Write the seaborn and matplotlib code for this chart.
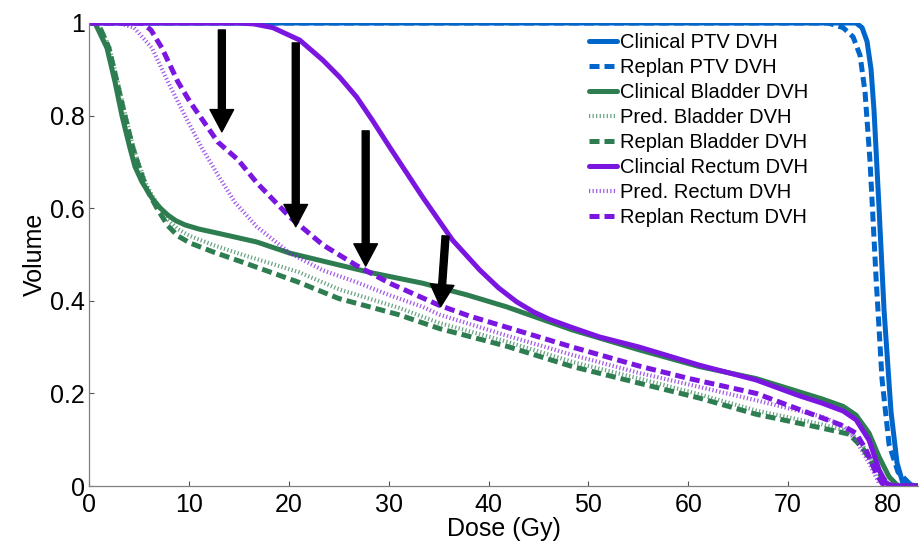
import matplotlib
matplotlib.use("Agg")
import matplotlib.pyplot as plt
import seaborn as sns

sns.set_style("ticks")
plt.rcParams['font.family'] = ['Liberation Sans', 'DejaVu Sans']
plt.rcParams['text.color'] = 'black'
plt.rcParams['axes.labelcolor'] = 'black'
plt.rcParams['xtick.color'] = 'black'
plt.rcParams['ytick.color'] = 'black'

# --- data (Dose in Gy, relative Volume) ---
ptv_clin_x = [0, 76.8, 77.4, 77.9, 78.3, 78.6, 79.1, 79.6, 80.3, 80.9, 81.5, 83]
ptv_clin_y = [1, 1, 0.99, 0.96, 0.9, 0.81, 0.6, 0.38, 0.16, 0.05, 0.005, 0]

ptv_replan_x = [0, 74, 75.5, 76.5, 77.2, 77.7, 78.2, 78.8, 79.4, 80.1, 81, 82.4, 83]
ptv_replan_y = [1, 1, 0.99, 0.97, 0.93, 0.85, 0.7, 0.45, 0.23, 0.09, 0.03, 0, 0]

bladder_clin_x = [0, 0.6, 1.8, 2.6, 3.3, 4.1, 4.6, 5.3, 6.3, 7.1, 7.9, 8.7, 9.6, 11.0, 12.9, 16.8, 20.1,
                  25.1, 28.4, 33.4, 37.8, 41.8, 48.4, 55.1, 61.1, 66.8, 73.4, 75.5, 76.8, 78.1, 79.1,
                  80.1, 81, 83]
bladder_clin_y = [1, 1, 0.946, 0.873, 0.80, 0.73, 0.69, 0.657, 0.622, 0.601, 0.585, 0.573, 0.564, 0.555,
                  0.546, 0.527, 0.503, 0.477, 0.46, 0.438, 0.413, 0.387, 0.337, 0.294, 0.258, 0.232,
                  0.188, 0.172, 0.153, 0.114, 0.063, 0.02, 0, 0]

bladder_x = [0, 0.9, 2.0, 2.8, 3.6, 4.4, 5.0, 5.8, 6.8, 7.9, 8.9, 10.1, 12.5, 15.3, 21, 25, 31, 35.1,
             41.8, 48.4, 55.1, 61.1, 66.8, 73.4, 76.1, 77.4, 78.8, 79.8, 80.3, 83]
bladder_pred_y = [1, 1, 0.95, 0.88, 0.805, 0.735, 0.695, 0.648, 0.61, 0.575, 0.555, 0.54, 0.52, 0.50,
                  0.462, 0.425, 0.385, 0.352, 0.312, 0.268, 0.232, 0.198, 0.163, 0.133, 0.118, 0.09,
                  0.04, 0.01, 0, 0]
bladder_replan_y = [1, 1, 0.946, 0.873, 0.80, 0.73, 0.69, 0.64, 0.60, 0.562, 0.54, 0.525, 0.505, 0.484,
                    0.44, 0.405, 0.37, 0.34, 0.302, 0.258, 0.222, 0.19, 0.155, 0.125, 0.112, 0.084,
                    0.035, 0.009, 0, 0]

rectum_clin_x = [0, 15, 16.5, 18.4, 21.1, 23.4, 25.1, 26.8, 28.4, 30.1, 33.4, 36.4, 39.1, 41.0, 42.8,
                 44.5, 46.1, 48.4, 51.1, 55.1, 61.1, 66.8, 71.1, 73.4, 75.5, 76.8, 78.1, 79.1, 79.8,
                 80.5, 83]
rectum_clin_y = [1, 1, 0.998, 0.99, 0.963, 0.92, 0.883, 0.84, 0.789, 0.732, 0.624, 0.531, 0.467, 0.428,
                 0.398, 0.376, 0.36, 0.342, 0.322, 0.30, 0.261, 0.229, 0.195, 0.179, 0.162, 0.143,
                 0.099, 0.035, 0.006, 0, 0]

rectum_pred_x = [0, 3.0, 4.5, 6.3, 7.9, 9.6, 11.3, 12.9, 14.6, 16.8, 20.1, 23.4, 26.8, 30.1, 33.4,
                 35.1, 41.8, 48.4, 55.1, 61.1, 66.8, 73.4, 75.5, 76.8, 78.1, 79.1, 83]
rectum_pred_y = [1, 1, 0.99, 0.946, 0.873, 0.80, 0.73, 0.672, 0.613, 0.56, 0.503, 0.466, 0.44, 0.412,
                 0.387, 0.37, 0.325, 0.283, 0.244, 0.214, 0.185, 0.15, 0.13, 0.099, 0.05, 0.006, 0]

rectum_replan_x = [0, 5.3, 6.2, 7.3, 8.9, 10.1, 12.9, 14.9, 16.8, 20.1, 23.4, 26.8, 30.1, 35.1, 38.1,
                   41.8, 48.4, 55.1, 60.1, 66.8, 73.4, 75.5, 76.8, 77.8, 78.8, 79.4, 80, 83]
rectum_replan_y = [1, 1, 0.985, 0.946, 0.873, 0.83, 0.743, 0.705, 0.655, 0.581, 0.521, 0.476, 0.438,
                   0.39, 0.367, 0.343, 0.30, 0.259, 0.232, 0.20, 0.147, 0.13, 0.114, 0.078, 0.028,
                   0.006, 0, 0]

# arrows: (x_start, y_start, x_tip, y_tip)
arrows = [(13.3, 0.985, 13.3, 0.765),
          (20.7, 0.957, 20.7, 0.56),
          (27.7, 0.767, 27.7, 0.475),
          (35.7, 0.54, 35.2, 0.387)]

blue = '#0066cc'
green = '#2e7d50'
purple = '#7b16e0'

fig = plt.figure(figsize=(9.2, 5.52), dpi=100)
ax = fig.add_axes([89 / 920, 66 / 552, 829 / 920, 463 / 552])

lw = 3.6
dash = (0, (2.0, 1.0))
dots = (0, (0.3, 0.55))

def draw(x, y, color, style, label, width=lw, alpha=1.0):
    sns.lineplot(x=x, y=y, ax=ax, color=color, linestyle=style, linewidth=width,
                 label=label, sort=False, estimator=None, alpha=alpha)

draw(ptv_clin_x, ptv_clin_y, blue, '-', 'Clinical PTV DVH')
draw(ptv_replan_x, ptv_replan_y, blue, dash, 'Replan PTV DVH')
draw(bladder_clin_x, bladder_clin_y, green, '-', 'Clinical Bladder DVH')
draw(bladder_x, bladder_pred_y, green, dots, 'Pred. Bladder DVH', width=3.0, alpha=0.7)
draw(bladder_x, bladder_replan_y, green, dash, 'Replan Bladder DVH')
draw(rectum_clin_x, rectum_clin_y, purple, '-', 'Clincial Rectum DVH')
draw(rectum_pred_x, rectum_pred_y, purple, dots, 'Pred. Rectum DVH', width=3.0, alpha=0.7)
draw(rectum_replan_x, rectum_replan_y, purple, dash, 'Replan Rectum DVH')

for x0, y0, x1, y1 in arrows:
    ax.annotate('', xy=(x1, y1), xytext=(x0, y0),
                arrowprops=dict(facecolor='black', edgecolor='black', width=5,
                                headwidth=17, headlength=16, shrink=0))

ax.set_xlim(0, 83)
ax.set_ylim(0, 1)
ax.set_xticks([0, 10, 20, 30, 40, 50, 60, 70, 80])
ax.set_yticks([0, 0.2, 0.4, 0.6, 0.8, 1])
ax.set_yticklabels(['0', '0.2', '0.4', '0.6', '0.8', '1'])
ax.tick_params(direction='in', length=3.5, width=0.8, color='#555555',
               labelcolor='black', labelsize=18)
ax.tick_params(axis='x', pad=5)
ax.tick_params(axis='y', pad=3)
ax.set_xlabel('Dose (Gy)', fontsize=18, labelpad=0, color='black')
ax.set_ylabel('Volume', fontsize=18, labelpad=2, color='black')
for side in ['top', 'right']:
    ax.spines[side].set_visible(False)
for side in ['left', 'bottom']:
    ax.spines[side].set_color('#808080')
    ax.spines[side].set_linewidth(0.9)

leg = ax.legend(loc='upper left', bbox_to_anchor=(589 / 920, 1 - 33 / 552),
                bbox_transform=fig.transFigure, frameon=False, fontsize=14.5,
                handlelength=1.4, handletextpad=0.15, labelspacing=0.3,
                borderpad=0, borderaxespad=0)
for t in leg.get_texts():
    t.set_color('black')

fig.savefig('out.png', dpi=100)
